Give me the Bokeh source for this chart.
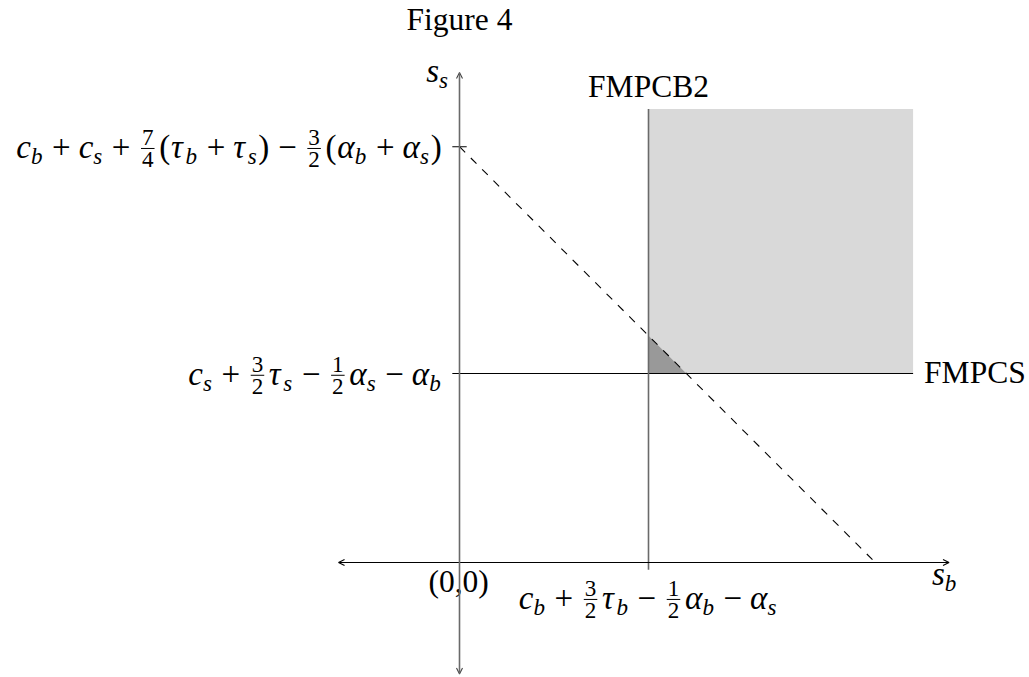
from bokeh.plotting import figure
from bokeh.models import Arrow, OpenHead, Range1d
from bokeh.embed import file_html
from bokeh.resources import INLINE
from bokeh.core.properties import value

# ---- model values (abstract units on both axes) ----
axis_sb_extent = [-3.2, 12.95]     # horizontal axis s_b, arrow tips
axis_ss_extent = [-2.95, 12.96]    # vertical axis s_s, arrow tips
fmpcb2_sb = 5.0                    # FMPCB2 threshold on s_b
fmpcs_ss = 5.0                     # FMPCS threshold on s_s
region_max = 12.0                  # upper corner of the shaded region
budget_total = 11.0                # dashed line: s_b + s_s = budget_total
tick_half = 0.19

title_text = "Figure 4"
fmpcb2_text = "FMPCB2"
fmpcs_text = "FMPCS"
origin_text = "(0,0)"

# math labels as token lists: (kind, text...) ; kinds: it, rm, sub, op, frac
label_budget = [("it", "c"), ("sub", "b"), ("op", "+"), ("it", "c"), ("sub", "s"),
                ("op", "+"), ("frac", "7", "4"), ("rm", "("), ("it", "τ"), ("sub", "b"),
                ("op", "+"), ("it", "τ"), ("sub", "s"), ("rm", ")"), ("op", "−"),
                ("frac", "3", "2"), ("rm", "("), ("it", "α"), ("sub", "b"), ("op", "+"),
                ("it", "α"), ("sub", "s"), ("rm", ")")]
label_ss_thr = [("it", "c"), ("sub", "s"), ("op", "+"), ("frac", "3", "2"), ("it", "τ"),
                ("sub", "s"), ("op", "−"), ("frac", "1", "2"), ("it", "α"), ("sub", "s"),
                ("op", "−"), ("it", "α"), ("sub", "b")]
label_sb_thr = [("it", "c"), ("sub", "b"), ("op", "+"), ("frac", "3", "2"), ("it", "τ"),
                ("sub", "b"), ("op", "−"), ("frac", "1", "2"), ("it", "α"), ("sub", "b"),
                ("op", "−"), ("it", "α"), ("sub", "s")]
label_ss_axis = [("it", "s"), ("sub", "s")]
label_sb_axis = [("it", "s"), ("sub", "b")]

# ---- page geometry ----
W, H = 1029, 677
PX = 37.8                    # pixels per unit
ORIGIN = (459.0, 562.0)      # screen position of (0, 0)
FONT = "Liberation Serif"
MATH = 33.0                  # math font size, px
TEXT = 31.5                  # plain text size, px
OP_GAP = 0.24                # em on each side of a binary operator
THIN = 0.06                  # em after a fraction
INNER = 9.8                  # node separation, px
BASE_FIX = 0.345             # em; lifts glyphs onto the intended baseline

REG_W = {"(": .36, ")": .36, ",": .25, "+": .564, "−": .564, " ": .25}
REG_W.update({d: .5 for d in "0123456789"})
IT_W = {"c": .444, "b": .5, "s": .389, "τ": .44, "α": .53}
CAP_W = {"F": .556, "M": .889, "P": .556, "C": .667, "B": .667, "S": .556,
         "i": .278, "g": .5, "u": .5, "r": .333, "e": .444}


def width(text, table):
    return sum(table.get(ch, REG_W.get(ch, .5)) for ch in text)


def layout(tokens, size):
    """Return text pieces (dx, dy, text, size, style, align), bars (x0, x1, dy), width; px, dy down."""
    pieces, bars = [], []
    x = 0.0
    s = 0.7 * size
    for tok in tokens:
        kind = tok[0]
        if kind == "it":
            pieces.append((x, 0.0, tok[1], size, "italic", "left"))
            x += width(tok[1], IT_W) * size
        elif kind == "rm":
            pieces.append((x, 0.0, tok[1], size, "normal", "left"))
            x += width(tok[1], REG_W) * size
        elif kind == "sub":
            pieces.append((x, 0.17 * size, tok[1], s, "italic", "left"))
            x += width(tok[1], IT_W) * s + 0.05 * size
        elif kind == "op":
            x += OP_GAP * size
            pieces.append((x, 0.0, tok[1], size, "normal", "left"))
            x += width(tok[1], REG_W) * size + OP_GAP * size
        elif kind == "frac":
            pad = 0.11 * size
            inner = max(width(tok[1], REG_W), width(tok[2], REG_W)) * s
            cx = x + pad + inner / 2
            pieces.append((cx, -0.41 * size, tok[1], s, "normal", "center"))
            pieces.append((cx, 0.27 * size, tok[2], s, "normal", "center"))
            bars.append((x + pad - 1, x + pad + inner + 1, -0.31 * size))
            x += inner + 2 * pad + THIN * size
    return pieces, bars, x


def to_data(px, py):
    return (px - ORIGIN[0]) / PX, (ORIGIN[1] - py) / PX


def to_px(x, y):
    return ORIGIN[0] + x * PX, ORIGIN[1] - y * PX


p = figure(width=W, height=H, toolbar_location=None, output_backend="svg",
           x_range=Range1d(-ORIGIN[0] / PX, (W - ORIGIN[0]) / PX),
           y_range=Range1d(-(H - ORIGIN[1]) / PX, ORIGIN[1] / PX),
           x_axis_location=None, y_axis_location=None, min_border=0,
           outline_line_color=None, background_fill_color="white",
           border_fill_color="white")
p.xgrid.visible = False
p.ygrid.visible = False

# shaded region where both thresholds hold
p.quad(left=[fmpcb2_sb], right=[region_max], bottom=[fmpcs_ss], top=[region_max],
       fill_color="#d9d9d9", line_color=None)
# small triangle between the thresholds and the budget line
p.patch([fmpcb2_sb, fmpcb2_sb, budget_total - fmpcs_ss],
        [fmpcs_ss, budget_total - fmpcb2_sb, fmpcs_ss],
        fill_color="#999999", line_color=None)

# threshold lines
p.line([-tick_half, region_max], [fmpcs_ss, fmpcs_ss], line_color="black", line_width=1.1)
p.line([fmpcb2_sb, fmpcb2_sb], [-tick_half, region_max], line_color="#6a6a6a", line_width=1.6)
# budget line
p.line([0, budget_total], [budget_total, 0], line_color="black", line_width=1.1,
       line_dash="8 8")
# tick at the intercept
p.line([-tick_half, tick_half], [budget_total, budget_total], line_color="black", line_width=1.1)

# axes with arrows at both ends
p.add_layout(Arrow(x_start=axis_sb_extent[0], y_start=0, x_end=axis_sb_extent[1], y_end=0,
                   line_color="black", line_width=1.1,
                   start=OpenHead(size=6, line_width=1.1, line_color="black"),
                   end=OpenHead(size=6, line_width=1.1, line_color="black")))
p.add_layout(Arrow(x_start=0, y_start=axis_ss_extent[0], x_end=0, y_end=axis_ss_extent[1],
                   line_color="#6a6a6a", line_width=1.6,
                   start=OpenHead(size=6, line_width=1.1, line_color="#444444"),
                   end=OpenHead(size=6, line_width=1.1, line_color="#444444")))

groups = {}
bar_segments = []


def place(pieces, bars, total, ax, ay, align, dx, baseline):
    """Place laid-out pieces relative to data anchor (ax, ay); dx/baseline in px (down positive)."""
    apx, apy = to_px(ax, ay)
    if align == "right":
        start = apx - dx - total
    elif align == "center":
        start = apx + dx - total / 2
    else:
        start = apx + dx
    base = apy + baseline
    for (px, py, txt, size, style, al) in pieces:
        x, y = to_data(start + px, base + py - BASE_FIX * size)
        g = groups.setdefault((size, style, al), {"x": [], "y": [], "text": []})
        g["x"].append(x)
        g["y"].append(y)
        g["text"].append(txt)
    for (x0, x1, py) in bars:
        a = to_data(start + x0, base + py)
        b = to_data(start + x1, base + py)
        bar_segments.append((a[0], a[1], b[0], b[1]))


def plain(text, size, table):
    return [(0.0, 0.0, text, size, "normal", "left")], [], width(text, table) * size


place(*layout(label_budget, MATH), -tick_half, budget_total, "right", INNER, 12)
place(*layout(label_ss_thr, MATH), -tick_half, fmpcs_ss, "right", INNER, 12)
place(*layout(label_sb_thr, MATH), fmpcb2_sb, -tick_half, "center", 0, 40)
place(*layout(label_ss_axis, MATH), 0, axis_ss_extent[1], "right", INNER, 10)
place(*layout(label_sb_axis, MATH), axis_sb_extent[1], 0, "center", -4, 23)
place(*plain(origin_text, TEXT, REG_W), 0, 0, "center", 0, 30)
place(*plain(title_text, TEXT, CAP_W), 0, axis_ss_extent[1], "center", 0, -42)
place(*plain(fmpcb2_text, TEXT, CAP_W), fmpcb2_sb, region_max, "center", 0, -12)
place(*plain(fmpcs_text, TEXT, CAP_W), region_max, fmpcs_ss, "left", 11, 10)

for (size, style, al), g in groups.items():
    p.text(x=g["x"], y=g["y"], text=g["text"], text_font=value(FONT),
           text_font_size=value(f"{size:.1f}px"), text_font_style=value(style),
           text_align=value(al), text_baseline=value("alphabetic"), text_color="black")

if bar_segments:
    p.segment(x0=[s[0] for s in bar_segments], y0=[s[1] for s in bar_segments],
              x1=[s[2] for s in bar_segments], y1=[s[3] for s in bar_segments],
              line_color="black", line_width=1.0)

open("out.html", "w").write(file_html(p, INLINE))
